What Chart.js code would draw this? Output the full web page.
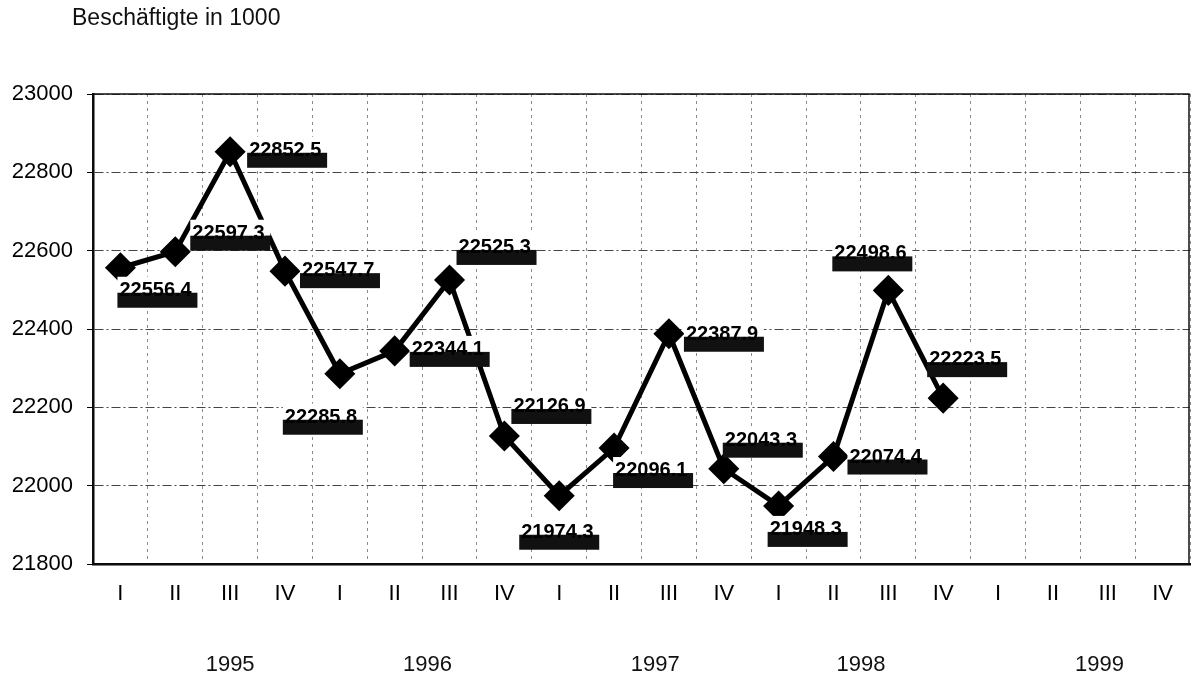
<!DOCTYPE html>
<html>
<head>
<meta charset="utf-8">
<script src="https://cdn.jsdelivr.net/npm/chart.js@4/dist/chart.umd.min.js"></script>
<style>
  body { margin: 0; background: #fff; }
  #wrap { width: 1191px; height: 678px; }
</style>
</head>
<body>
<div id="wrap"><canvas id="myChart" width="1191" height="678"></canvas></div>
<script>
// values
const quarters = ['I', 'II', 'III', 'IV', 'I', 'II', 'III', 'IV', 'I', 'II', 'III', 'IV',
                  'I', 'II', 'III', 'IV', 'I', 'II', 'III', 'IV'];
const years = ['1995', '1996', '1997', '1998', '1999'];
const employed = [22556.4, 22597.3, 22852.5, 22547.7, 22285.8, 22344.1, 22525.3, 22126.9,
                  21974.3, 22096.1, 22387.9, 22043.3, 21948.3, 22074.4, 22498.6, 22223.5];
const yMin = 21800;
const yMax = 23000;
const yStep = 200;
const unitTitle = 'Beschäftigte in 1000';

// where the year captions sit (in quarter index units) and where each value label goes
const yearPos = [2.0, 5.6, 9.75, 13.5, 17.85];
const labelPlacement = [
  [-3, 25], [15, -16], [17, 1], [15, 2], [-57, 46], [15, 1], [7, -30], [7, -27],
  [-40, 39], [-1, 25], [15, 3], [-1, -26], [-11, 26], [14, 3], [-56, -34], [-16, -36]
];

const FONT = 'Arial, "Liberation Sans", Helvetica, sans-serif';

// white page, frame around the plot and the little title top left
const frame = {
  id: 'frame',
  beforeDraw(chart) {
    const ctx = chart.ctx;
    ctx.save();
    ctx.fillStyle = '#fff';
    ctx.fillRect(0, 0, chart.width, chart.height);
    ctx.fillStyle = '#111';
    ctx.font = '23px ' + FONT;
    ctx.textBaseline = 'top';
    ctx.fillText(unitTitle, 72, 7);
    ctx.restore();
  },
  afterDraw(chart) {
    const a = chart.chartArea;
    const ctx = chart.ctx;
    ctx.save();
    ctx.strokeStyle = '#111';
    ctx.lineWidth = 1.5;
    ctx.strokeRect(a.left, a.top, a.right - a.left - 1, a.bottom - a.top);
    ctx.restore();
  }
};

// value labels: text on white with a dark bar under it, drawn above the line
const valueLabels = {
  id: 'valueLabels',
  afterDatasetsDraw(chart) {
    const ctx = chart.ctx;
    const meta = chart.getDatasetMeta(0);
    ctx.save();
    ctx.font = 'bold 20px ' + FONT;
    ctx.textBaseline = 'alphabetic';
    meta.data.forEach(function(pt, i) {
      const off = labelPlacement[i];
      if (!off) return;
      const bx = pt.x + off[0];
      const by = pt.y + off[1];
      ctx.fillStyle = '#fff';
      ctx.fillRect(bx, by - 16, 80, 16);
      ctx.fillStyle = '#111';
      ctx.fillRect(bx, by, 80, 15);
      ctx.fillStyle = '#000';
      ctx.fillText(employed[i].toFixed(1), bx + 2, by + 3);
    });
    ctx.restore();
  }
};

const data = {
  labels: quarters,
  datasets: [{
    data: employed,
    borderColor: '#000',
    borderWidth: 5,
    backgroundColor: '#000',
    pointStyle: 'rectRot',
    pointRadius: 12,
    pointHoverRadius: 12,
    pointBackgroundColor: '#000',
    pointBorderColor: '#000',
    tension: 0
  }]
};

const config = {
  type: 'line',
  data: data,
  options: {
    responsive: false,
    animation: false,
    events: [],
    layout: { autoPadding: false, padding: { top: 94, right: 1, bottom: 0, left: 0 } },
    plugins: {
      legend: { display: false },
      tooltip: { enabled: false },
      title: { display: false }
    },
    scales: {
      x: {
        type: 'category',
        position: 'bottom',
        offset: true,
        weight: 0,
        grid: {
          offset: true,
          drawTicks: false,
          color: '#8a8a8a',
          lineWidth: 1
        },
        border: { display: true, color: '#000', width: 2.5, dash: [3, 4] },
        ticks: {
          color: '#000',
          font: { family: FONT, size: 22 },
          padding: 17,
          maxRotation: 0,
          autoSkip: false
        },
        afterFit(scale) { scale.height = 60; }
      },
      x2: {
        type: 'linear',
        position: 'bottom',
        weight: 1,
        min: -0.5,
        max: 19.5,
        grid: { display: false, drawTicks: false },
        border: { display: false },
        afterBuildTicks(scale) {
          scale.ticks = yearPos.map(v => ({ value: v }));
        },
        ticks: {
          color: '#111',
          font: { family: FONT, size: 22 },
          padding: 28,
          maxRotation: 0,
          autoSkip: false,
          callback: function(value, index) { return years[index]; }
        },
        afterFit(scale) { scale.height = 54; }
      },
      y: {
        min: yMin,
        max: yMax,
        grid: {
          color: '#444',
          lineWidth: 1,
          tickLength: 6,
          tickColor: '#000',
          tickBorderDash: []
        },
        border: { display: true, color: '#000', width: 2.5, dash: [9, 3, 2, 3] },
        ticks: {
          stepSize: yStep,
          color: '#000',
          font: { family: FONT, size: 22 },
          padding: 14,
          callback: function(value) { return String(value); }
        },
        afterFit(scale) { scale.width = 93; }
      }
    }
  },
  plugins: [frame, valueLabels]
};

let myChart = new Chart(document.getElementById('myChart'), config);
</script>
</body>
</html>
